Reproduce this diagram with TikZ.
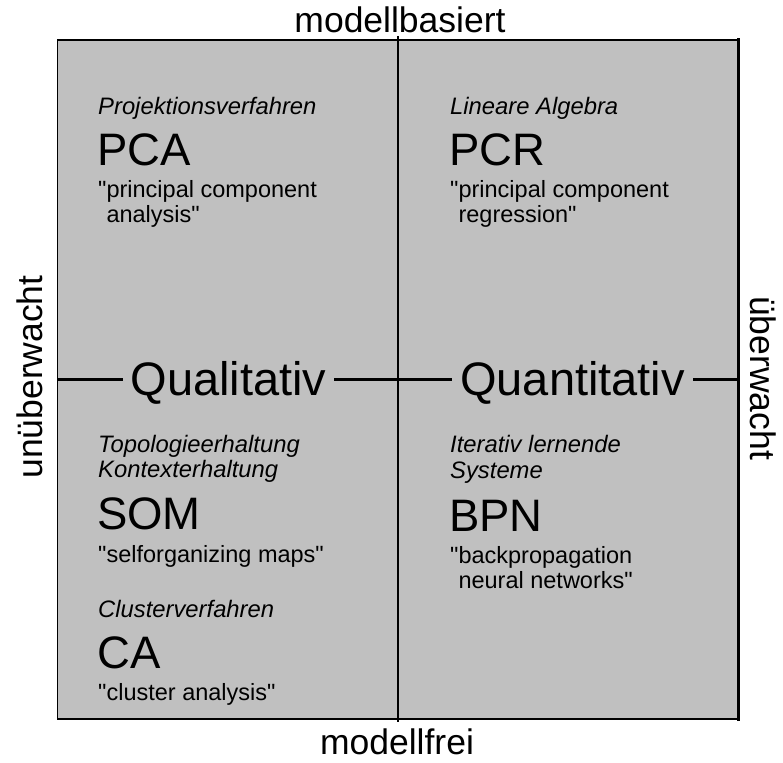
\documentclass[tikz,border=0pt]{standalone}
\usepackage{fontspec}
\setmainfont{Liberation Sans}[Ligatures=TeXOff]
\definecolor{boxgray}{HTML}{C0C0C0}
\begin{document}
\begin{tikzpicture}[x=1pt,y=-1pt,
  cat/.style={font=\fontsize{23.8}{28}\selectfont\itshape, anchor=base west, inner sep=0pt},
  abbr/.style={font=\fontsize{45.5}{54}\selectfont, anchor=base west, inner sep=0pt},
  desc/.style={font=\fontsize{23.5}{28}\selectfont, anchor=base west, inner sep=0pt},
  axislabel/.style={font=\fontsize{35.5}{42}\selectfont, inner sep=0pt, anchor=base},
  kind/.style={font=\fontsize{47}{56}\selectfont, fill=boxgray, inner ysep=0pt, inner xsep=8pt, anchor=base}]
\useasboundingbox (0,0) rectangle (783,762);

% frame corners and axis end points
\coordinate (tl) at (57.5,40);
\coordinate (br) at (738,719);
\coordinate (vtop) at (398,36);
\coordinate (vbot) at (398,722);
\coordinate (hl) at (57.5,379);
\coordinate (hr) at (738,379);

% grey field with frame
\fill[boxgray] (tl) rectangle (br);
\draw[line width=1.4pt] (tl) rectangle (br);
\draw[line width=3pt] (738,38.5) -- (738,720.5);
\draw[line width=2pt] (57,719) -- (739.5,719);

% axes
\draw[line width=1.4pt] (vtop) -- (vbot);
\draw[line width=3pt] (hl) -- (hr);
\node[kind] (qual) at (228.5,395) {Qualitativ};
\node[kind] (quan) at (572.5,395) {Quantitativ};

% axis labels
\node[axislabel] (top) at (400,33) {modellbasiert};
\node[axislabel] (bottom) at (397,754) {modellfrei};
\node[axislabel, rotate=90] (left) at (42,377) {unüberwacht};
\node[axislabel, rotate=-90] (right) at (750,378) {überwacht};

% upper left quadrant
\node[cat]  (pcacat) at (98,115) {Projektionsverfahren};
\node[abbr] (pca)    at (97,165) {PCA};
\node[desc] (pcad1)  at (98,197) {"principal component};
\node[desc] (pcad2)  at (98,222) {\phantom{"}analysis"};

% upper right quadrant
\node[cat]  (pcrcat) at (450,115) {Lineare Algebra};
\node[abbr] (pcr)    at (449,165) {PCR};
\node[desc] (pcrd1)  at (450,197) {"principal component};
\node[desc] (pcrd2)  at (450,222) {\phantom{"}regression"};

% lower left quadrant
\node[cat]  (somcat1) at (98,452) {Topologieerhaltung};
\node[cat]  (somcat2) at (98,477) {Kontexterhaltung};
\node[abbr] (som)     at (97,529) {SOM};
\node[desc] (somd)    at (98,562) {"selforganizing maps"};
\node[cat]  (cacat)   at (98,617) {Clusterverfahren};
\node[abbr] (ca)      at (97,668) {CA};
\node[desc] (cad)     at (98,700) {"cluster analysis"};

% lower right quadrant
\node[cat]  (bpncat1) at (450,452) {Iterativ lernende};
\node[cat]  (bpncat2) at (450,478) {Systeme};
\node[abbr] (bpn)     at (449,531) {BPN};
\node[desc] (bpnd1)   at (450,563) {"backpropagation};
\node[desc] (bpnd2)   at (450,588) {\phantom{"}neural networks"};
\end{tikzpicture}
\end{document}
